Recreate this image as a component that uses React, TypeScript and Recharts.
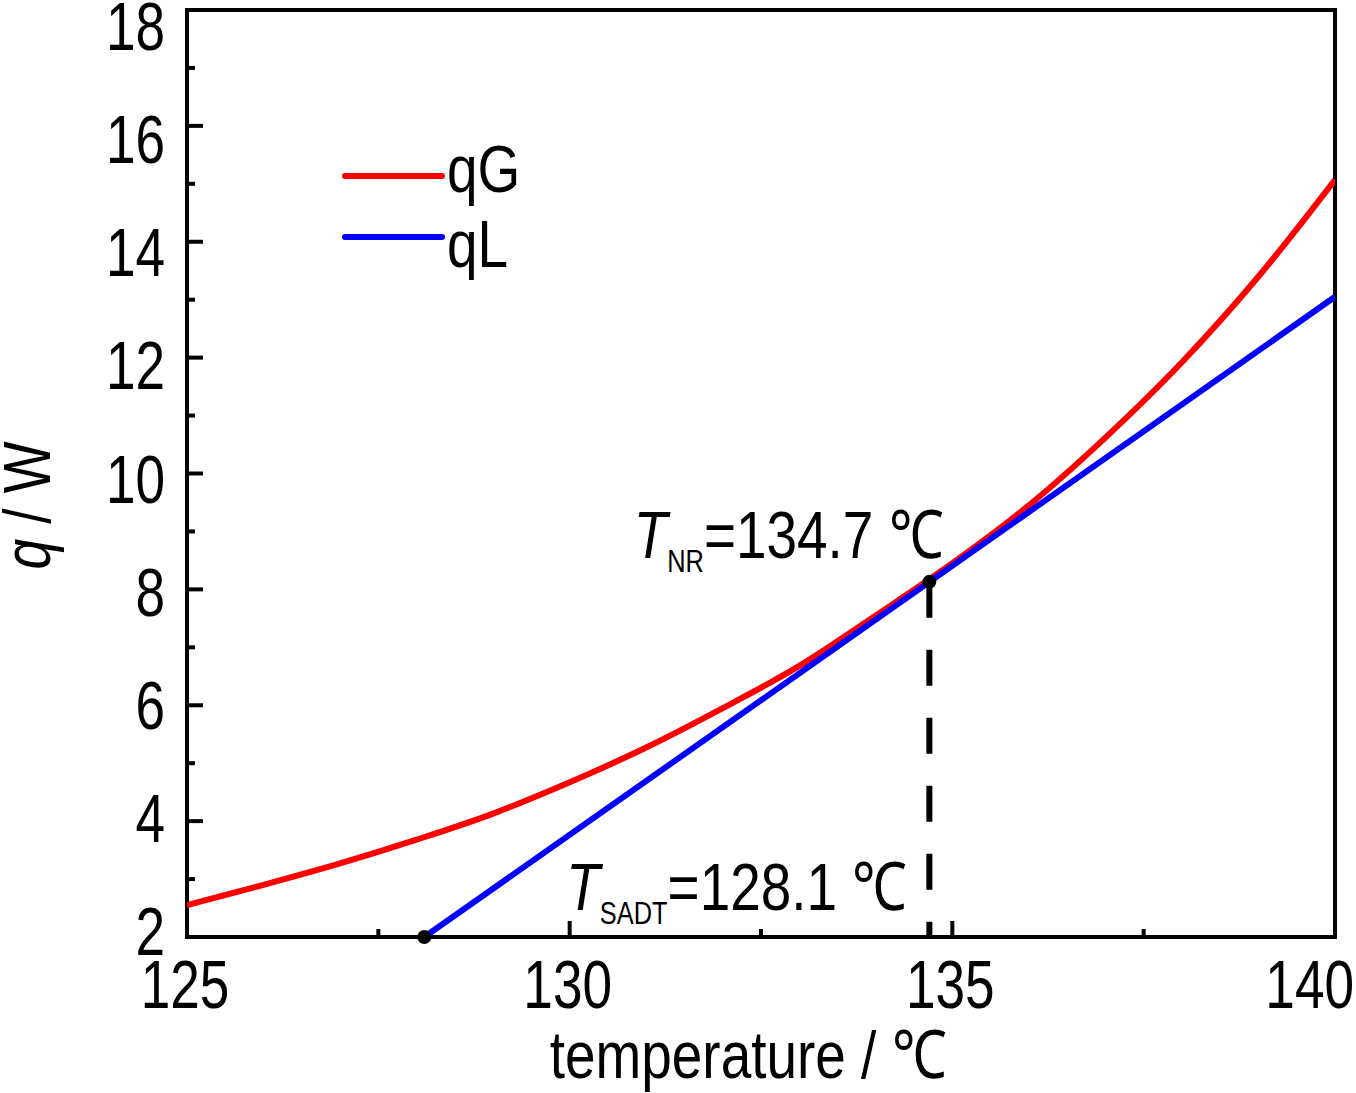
import {
  LineChart,
  Line,
  XAxis,
  YAxis,
  ReferenceArea,
  ReferenceDot,
  ReferenceLine,
  Legend,
} from "recharts";

const FONT = "'Liberation Sans', Arial, sans-serif";

// temperature (°C) for the heat generation curve
const tempG = [125, 126, 127, 128, 129, 130, 131, 132, 133, 134, 135, 136, 137, 138, 139, 140];
// heat generation qG (W)
const qG = [2.55, 2.9, 3.27, 3.68, 4.13, 4.67, 5.27, 5.95, 6.68, 7.55, 8.45, 9.45, 10.62, 11.92, 13.4, 15.07];

// heat loss line qL (W)
const tempL = [128.1, 140];
const qL = [2, 13.05];

const xTicks = [125, 127.5, 130, 132.5, 135, 137.5, 140];
const xMajor = [125, 130, 135, 140];
const yTicks = [2, 3, 4, 5, 6, 7, 8, 9, 10, 11, 12, 13, 14, 15, 16, 17, 18];

const tNR = 134.7;
const qNR = 8.13;
const tSADT = 128.1;

const gData = tempG.map((t, i) => ({ t, q: qG[i] }));
const lData = tempL.map((t, i) => ({ t, q: qL[i] }));

// narrow-looking text: the reference uses an Arial Narrow style face
const NText = ({ x, y, anchor = "start", size = 67, sx = 0.82, children }: any) => (
  <text
    transform={`translate(${x},${y}) scale(${sx},1)`}
    x={0}
    y={0}
    textAnchor={anchor}
    fontFamily={FONT}
    fontSize={size}
    fill="#000"
  >
    {children}
  </text>
);

const XTick = (props: any) => {
  const { x, y, payload } = props;
  const v = payload.value;
  const major = xMajor.includes(v);
  const last = v === 140;
  return (
    <g>
      <line x1={x} y1={y} x2={x} y2={y - (major ? 16 : 8)} stroke="#000" strokeWidth={4} />
      {major && (
        <NText x={last ? x + 19 : x - 2} y={y + 71} anchor={last ? "end" : "middle"} size={69} sx={0.77}>
          {v}
        </NText>
      )}
    </g>
  );
};

const YTick = (props: any) => {
  const { x, y, payload } = props;
  const v = payload.value;
  const major = v % 2 === 0;
  return (
    <g>
      <line x1={x} y1={y} x2={x + (major ? 16 : 8)} y2={y} stroke="#000" strokeWidth={4} />
      {major && (
        <NText x={x - 22} y={y + 40 - (18 - v) * 1.375} anchor="end" size={69} sx={0.77}>
          {v}
        </NText>
      )}
    </g>
  );
};

const renderLegend = () => (
  <svg width={240} height={150} style={{ display: "block" }}>
    <line x1={15} y1={46} x2={112} y2={46} stroke="#ff0000" strokeWidth={6} strokeLinecap="round" />
    <NText x={117} y={62}>qG</NText>
    <line x1={15} y1={107} x2={112} y2={107} stroke="#0000ff" strokeWidth={6} strokeLinecap="round" />
    <NText x={117} y={137}>qL</NText>
  </svg>
);

const NRLabel = (props: any) => {
  const { viewBox } = props;
  const cx = viewBox.x + viewBox.width / 2;
  const cy = viewBox.y + viewBox.height / 2;
  return (
    <NText x={cx + 14} y={cy - 24} anchor="end">
      <tspan fontStyle="italic">T</tspan>
      <tspan fontSize={31} dy={14}>NR</tspan>
      <tspan dy={-14}>=134.7 ℃</tspan>
    </NText>
  );
};

const SADTLabel = (props: any) => {
  const { viewBox } = props;
  const cx = viewBox.x + viewBox.width / 2;
  const cy = viewBox.y + viewBox.height / 2;
  return (
    <NText x={cx + 142} y={cy - 27}>
      <tspan fontStyle="italic">T</tspan>
      <tspan fontSize={31} dy={14}>SADT</tspan>
      <tspan dy={-14}>=128.1 ℃</tspan>
    </NText>
  );
};

const YLabel = (props: any) => {
  const { viewBox } = props;
  const cy = viewBox.y + viewBox.height / 2 + 32;
  return (
    <text
      transform={`translate(50,${cy}) rotate(-90) scale(0.82,1)`}
      x={0}
      y={0}
      textAnchor="middle"
      fontFamily={FONT}
      fontSize={67}
      fill="#000"
    >
      <tspan fontStyle="italic">q</tspan>
      <tspan> / W</tspan>
    </text>
  );
};

const XLabel = (props: any) => {
  const { viewBox } = props;
  const cx = viewBox.x + viewBox.width / 2 - 13;
  return (
    <NText x={cx} y={1078} anchor="middle">
      temperature / ℃
    </NText>
  );
};

export default function App() {
  return (
    <div style={{ position: "absolute", left: 0, top: 0, background: "#fff" }}>
      <LineChart width={1356} height={1093} margin={{ top: 10, right: 21, bottom: 0, left: 0 }}>
        <XAxis
          type="number"
          dataKey="t"
          domain={[125, 140]}
          ticks={xTicks}
          interval={0}
          allowDataOverflow
          axisLine={false}
          tickLine={false}
          tickSize={0}
          tickMargin={0}
          tick={<XTick />}
          height={156}
          label={<XLabel />}
        />
        <YAxis
          type="number"
          domain={[2, 18]}
          ticks={yTicks}
          interval={0}
          allowDataOverflow
          axisLine={false}
          tickLine={false}
          tickSize={0}
          tickMargin={0}
          tick={<YTick />}
          width={187}
          label={<YLabel />}
        />
        <ReferenceArea
          x1={125}
          x2={140}
          y1={2}
          y2={18}
          fill="none"
          fillOpacity={0}
          stroke="#000"
          strokeWidth={4}
        />
        <Legend
          layout="horizontal"
          verticalAlign="middle"
          align="center"
          content={renderLegend}
          wrapperStyle={{ top: 130, left: 330, width: 240, height: 150 }}
        />
        <Line
          data={gData}
          dataKey="q"
          name="qG"
          type="monotone"
          stroke="#ff0000"
          strokeWidth={6}
          dot={false}
          isAnimationActive={false}
        />
        <Line
          data={lData}
          dataKey="q"
          name="qL"
          type="linear"
          stroke="#0000ff"
          strokeWidth={6}
          dot={false}
          isAnimationActive={false}
        />
        <ReferenceLine
          segment={[
            { x: tNR, y: qNR },
            { x: tNR, y: 2 },
          ]}
          stroke="#000"
          strokeWidth={6}
          strokeDasharray="36 32"
        />
        <ReferenceDot x={tNR} y={qNR} r={7} fill="#000" stroke="none" label={<NRLabel />} />
        <ReferenceDot x={tSADT} y={2} r={7} fill="#000" stroke="none" label={<SADTLabel />} />
      </LineChart>
    </div>
  );
}
